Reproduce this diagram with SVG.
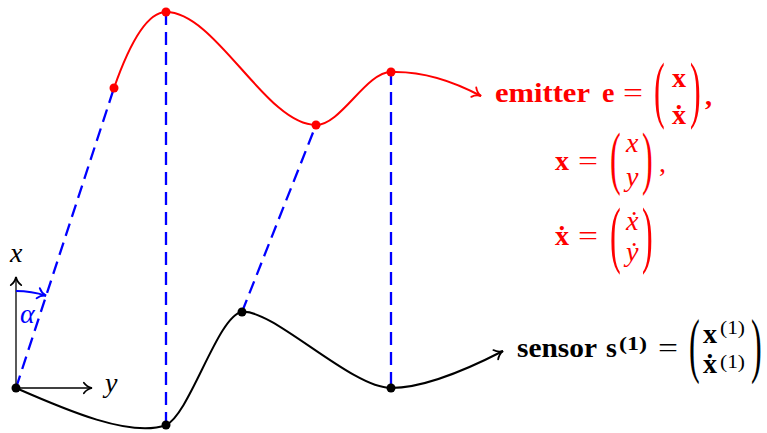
<svg xmlns="http://www.w3.org/2000/svg" width="767" height="433" viewBox="0 0 767 433">
<style>
  .red{fill:#ff0000}
  .blk{fill:#000}
  .blue{fill:#0000ff}
  .t{font-family:"Liberation Serif","DejaVu Serif",serif;font-size:28px}
  .b{font-weight:bold}
  .i{font-style:italic}
  .sup{font-size:19px}
  .par{font-family:"Liberation Serif","DejaVu Serif",serif;font-weight:normal;font-size:28px}
  .dash{stroke:#0000ff;stroke-width:2.3;stroke-dasharray:13 7;fill:none}
  .rc{stroke:#ff0000;stroke-width:2;fill:none}
  .bc{stroke:#000;stroke-width:2;fill:none}
  .ax{stroke:#000;stroke-width:1.3;fill:none}
</style>
<defs>
  <marker id="arR" markerUnits="userSpaceOnUse" markerWidth="14" markerHeight="14" viewBox="-8 -6 10 12" refX="0" refY="0" orient="auto" overflow="visible">
    <path d="M -7 -4.5 C -5 -1.8 -2 -0.4 0 0 C -2 0.4 -5 1.8 -7 4.5" stroke="#ff0000" stroke-width="1.6" fill="none" stroke-linecap="round"/>
  </marker>
  <marker id="arK" markerUnits="userSpaceOnUse" markerWidth="14" markerHeight="14" viewBox="-8 -6 10 12" refX="0" refY="0" orient="auto" overflow="visible">
    <path d="M -7 -4.5 C -5 -1.8 -2 -0.4 0 0 C -2 0.4 -5 1.8 -7 4.5" stroke="#000" stroke-width="1.5" fill="none" stroke-linecap="round"/>
  </marker>
  <marker id="arB" markerUnits="userSpaceOnUse" markerWidth="14" markerHeight="14" viewBox="-8 -6 10 12" refX="0" refY="0" orient="auto" overflow="visible">
    <path d="M -7 -4.5 C -5 -1.8 -2 -0.4 0 0 C -2 0.4 -5 1.8 -7 4.5" stroke="#0000ff" stroke-width="1.7" fill="none" stroke-linecap="round"/>
  </marker>
</defs>

<g id="connectors">
  <line class="dash" x1="16" y1="388" x2="114" y2="88"/>
  <line class="dash" x1="166" y1="12" x2="166" y2="425"/>
  <line class="dash" x1="242" y1="312" x2="316" y2="125"/>
  <line class="dash" x1="391" y1="72" x2="391" y2="388"/>
</g>

<g id="axes">
  <line class="ax" x1="16" y1="388" x2="16" y2="277" marker-end="url(#arK)"/>
  <line class="ax" x1="16" y1="388" x2="92" y2="388" marker-end="url(#arK)"/>
  <text class="t i blk" x="10" y="262" font-size="24">x</text>
  <text class="t i blk" x="105" y="392" font-size="24">y</text>
  <path d="M 16 291 A 97 97 0 0 1 46 295.7" stroke="#0000ff" stroke-width="2" fill="none" marker-end="url(#arB)"/>
  <text class="t i blue" x="20" y="323" font-size="24">α</text>
</g>

<g id="emitter">
  <path class="rc" d="M 114 88 C 128 48 146 12 166 12 C 216 12 266 125 316 125 C 341 125 366 72 391 72 C 421 71 451 80 481 96" marker-end="url(#arR)"/>
  <circle class="red" cx="114" cy="88" r="4.5"/>
  <circle class="red" cx="166" cy="12" r="4.5"/>
  <circle class="red" cx="316" cy="125" r="4.5"/>
  <circle class="red" cx="391" cy="72" r="4.5"/>
</g>

<g id="sensor">
  <path class="bc" d="M 16 388 C 66 410 131 438 166 425 C 190 414 218 315 242 312 C 272 308 351 388 391 388 C 425 388 470 368 503 351" marker-end="url(#arK)"/>
  <circle class="blk" cx="16" cy="388" r="4.5"/>
  <circle class="blk" cx="166" cy="425" r="4.5"/>
  <circle class="blk" cx="242" cy="312" r="4.5"/>
  <circle class="blk" cx="391" cy="388" r="4.5"/>
</g>

<g id="emitter-label" class="red">
  <text class="t b" x="495" y="102" textLength="95" lengthAdjust="spacingAndGlyphs">emitter</text>
  <text class="t b" x="602" y="102">e</text>
  <text class="t" x="623" y="102" textLength="20" lengthAdjust="spacingAndGlyphs">=</text>
  <text class="par" transform="translate(654,63) scale(1.15,2.62)" y="19.4">(</text>
  <text class="t b" x="672" y="87">x</text>
  <text class="t b" x="672" y="124">ẋ</text>
  <text class="par" transform="translate(690,63) scale(1.15,2.62)" y="19.4">)</text>
  <text class="t b" x="705" y="105">,</text>

  <text class="t b" x="555" y="170">x</text>
  <text class="t" x="578" y="170" textLength="20" lengthAdjust="spacingAndGlyphs">=</text>
  <text class="par" transform="translate(610,132) scale(1.15,2.5)" y="19.4">(</text>
  <text class="t i" x="626" y="152">x</text>
  <text class="t i" x="626" y="186">y</text>
  <text class="par" transform="translate(642,132) scale(1.15,2.5)" y="19.4">)</text>
  <text class="t" x="659" y="172">,</text>

  <text class="t b" x="555" y="245">ẋ</text>
  <text class="t" x="578" y="245" textLength="20" lengthAdjust="spacingAndGlyphs">=</text>
  <text class="par" transform="translate(610,207) scale(1.15,2.66)" y="19.4">(</text>
  <text class="t i" x="626" y="230">ẋ</text>
  <text class="t i" x="626" y="261">ẏ</text>
  <text class="par" transform="translate(642,207) scale(1.15,2.66)" y="19.4">)</text>
</g>

<g id="sensor-label" class="blk">
  <text class="t b" x="517" y="357" textLength="80" lengthAdjust="spacingAndGlyphs">sensor</text>
  <text class="t b" x="606" y="357">s</text>
  <text class="t b sup" x="619" y="350" textLength="28" lengthAdjust="spacingAndGlyphs">(1)</text>
  <text class="t" x="658" y="357" textLength="20" lengthAdjust="spacingAndGlyphs">=</text>
  <text class="par" transform="translate(689,320) scale(1.15,2.54)" y="19.4">(</text>
  <text class="t b" x="703" y="343">x</text>
  <text class="t sup" x="720" y="334" textLength="25" lengthAdjust="spacingAndGlyphs">(1)</text>
  <text class="t b" x="703" y="373">ẋ</text>
  <text class="t sup" x="720" y="368" textLength="25" lengthAdjust="spacingAndGlyphs">(1)</text>
  <text class="par" transform="translate(751,320) scale(1.15,2.54)" y="19.4">)</text>
</g>
</svg>
